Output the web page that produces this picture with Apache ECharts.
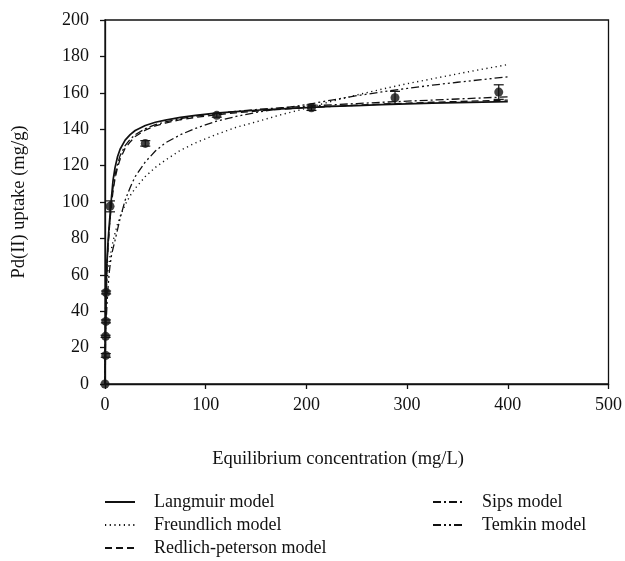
<!DOCTYPE html>
<html>
<head>
<meta charset="utf-8">
<script src="https://cdn.jsdelivr.net/npm/echarts@6/dist/echarts.min.js"></script>
<style>
  html, body { margin: 0; padding: 0; background: #fff; }
  #chart { width: 625px; height: 561px; }
</style>
</head>
<body>
<div id="chart"></div>
<script>
// Pd(II) adsorption isotherm: measured uptake with fitted model curves

// Measured points: equilibrium concentration (mg/L), uptake (mg/g), error (mg/g)
const expC   = [0, 0.8, 0.6, 0.9, 1.1, 5, 40, 111, 205, 288, 391];
const expQ   = [0, 15.7, 26.2, 34.4, 50.3, 97.6, 132.2, 147.6, 151.8, 157.3, 160.4];
const expErr = [0, 1.0, 0.6, 0.8, 0.8, 3.0, 1.5, 1.0, 1.5, 3.5, 4.0];

// Model curves read at common concentrations (mg/L)
const modelC      = [0, 0.25, 0.5, 1, 1.5, 2, 3, 4, 5, 6.5, 8, 10, 12.5, 15, 20, 25, 30, 40, 50, 60,
                     75, 90, 110, 130, 150, 175, 200, 225, 250, 275, 300, 325, 350, 375, 400];
const langmuirQ   = [0, 14, 27, 48, 60, 68, 78, 86, 93, 103, 112, 119, 125, 129, 134, 137, 139.3, 142, 143.8, 145,
                     146.5, 147.6, 148.8, 149.7, 150.4, 151.2, 151.9, 152.5, 153, 153.5, 153.9, 154.3, 154.6, 154.9, 155.2];
const freundlichQ = [0, 35, 42, 49, 54, 57.5, 62.5, 66.5, 70, 74.5, 78.5, 83, 88, 92, 98.5, 103.5, 107.5, 114, 119, 123,
                     128.5, 132.5, 137, 141, 144, 148, 151.5, 155.3, 158.8, 162, 165, 167.7, 170.4, 173, 175.5];
const redlichQ    = [0, 13, 25, 45, 57, 65, 75, 83, 90, 99, 106, 113, 119, 123.5, 129.5, 133, 136, 139.5, 141.8, 143.4,
                     145.2, 146.5, 147.9, 149, 149.9, 150.9, 151.8, 152.5, 153.2, 153.8, 154.3, 154.8, 155.2, 155.6, 156];
const sipsQ       = [0, 15, 28, 47, 58, 66, 76, 84, 91, 100, 108, 115, 121, 125.5, 131, 134.5, 137, 140.3, 142.5, 144,
                     145.8, 147.2, 148.6, 149.8, 150.8, 151.8, 152.6, 153.4, 154.1, 154.8, 155.4, 156, 156.6, 157.2, 157.8];
const temkinC     = [1.5, 2, 3, 4, 5, 6.5, 8, 10, 12.5, 15, 20, 25, 30, 40, 50, 60,
                     75, 90, 110, 130, 150, 175, 200, 225, 250, 275, 300, 325, 350, 375, 400];
const temkinQ     = [38, 44, 53, 60, 65, 71, 74.5, 79, 85, 91, 101, 108, 114, 122, 128, 132.5,
                     137, 140.5, 144.3, 147, 149.2, 151.5, 153.5, 156, 158.4, 160.5, 162.4, 164.2, 165.8, 167.3, 168.8];

// Axis ticks
const xTicks = { min: 0, max: 500, step: 100 };
const yTicks = { min: 0, max: 200, step: 20 };

const FONT = '"Liberation Serif", "DejaVu Serif", serif';
const INK = '#111';

function pairs(xs, ys) { return xs.map((x, i) => [x, ys[i]]); }

function curve(name, xs, ys, dash, width) {
  return {
    name: name,
    type: 'line',
    data: pairs(xs, ys),
    symbol: 'none',
    smooth: false,
    lineStyle: { color: INK, width: width || 1.3, type: dash },
    itemStyle: { color: INK },
    z: 3
  };
}

const chart = echarts.init(document.getElementById('chart'), null, { renderer: 'canvas' });

const legendCommon = {
  orient: 'vertical',
  padding: 0,
  itemWidth: 30,
  itemHeight: 18,
  itemGap: 5,
  itemStyle: { opacity: 0 },
  textStyle: { fontFamily: FONT, fontSize: 18, color: INK, padding: [0, 0, 0, 14], lineHeight: 18 }
};

chart.setOption({
  animation: false,
  backgroundColor: '#fff',
  grid: {
    left: 105, right: 16, top: 20, bottom: 177,
    show: true, borderColor: INK, borderWidth: 1.3, backgroundColor: 'transparent'
  },
  xAxis: {
    type: 'value',
    min: xTicks.min, max: xTicks.max, interval: xTicks.step,
    axisLine: { lineStyle: { color: INK, width: 1.3 } },
    axisTick: { inside: false, length: 5, lineStyle: { color: INK, width: 1.3 } },
    axisLabel: { fontFamily: FONT, fontSize: 18, color: INK, margin: 12 },
    splitLine: { show: false }
  },
  yAxis: {
    type: 'value',
    min: yTicks.min, max: yTicks.max, interval: yTicks.step,
    axisLine: { lineStyle: { color: INK, width: 1.3 } },
    axisTick: { inside: false, length: 5, lineStyle: { color: INK, width: 1.3 } },
    axisLabel: { fontFamily: FONT, fontSize: 18, color: INK, margin: 16 },
    splitLine: { show: false }
  },
  legend: [
    Object.assign({ left: 104, top: 493, data: ['Langmuir model', 'Freundlich model', 'Redlich-peterson model'] }, legendCommon),
    Object.assign({ left: 432, top: 493, data: ['Sips model', 'Temkin model'] }, legendCommon)
  ],
  graphic: [
    {
      type: 'text', x: 338, y: 459,
      style: { text: 'Equilibrium concentration (mg/L)', font: '18.5px ' + FONT, fill: INK, align: 'center', verticalAlign: 'middle' }
    },
    {
      type: 'text', x: 19, y: 202, rotation: Math.PI / 2,
      style: { text: 'Pd(II) uptake (mg/g)', font: '18.5px ' + FONT, fill: INK, align: 'center', verticalAlign: 'middle' }
    }
  ],
  series: [
    curve('Langmuir model', modelC, langmuirQ, 'solid', 1.7),
    curve('Freundlich model', modelC, freundlichQ, [1.2, 3.5], 1.4),
    curve('Redlich-peterson model', modelC, redlichQ, [7, 4], 1.3),
    curve('Sips model', modelC, sipsQ, [8, 3, 2, 3], 1.3),
    curve('Temkin model', temkinC, temkinQ, [8, 3, 2, 3, 2, 3], 1.3),
    {
      name: 'errors',
      type: 'custom',
      data: expC.map((c, i) => [c, expQ[i], expErr[i]]),
      renderItem: function (params, api) {
        const x = api.value(0), y = api.value(1), e = api.value(2);
        if (!e) return null;
        const hi = api.coord([x, y + e]);
        const lo = api.coord([x, y - e]);
        const cap = 5;
        const st = { stroke: INK, lineWidth: 1.2 };
        return {
          type: 'group',
          children: [
            { type: 'line', shape: { x1: hi[0], y1: hi[1], x2: lo[0], y2: lo[1] }, style: st },
            { type: 'line', shape: { x1: hi[0] - cap, y1: hi[1], x2: hi[0] + cap, y2: hi[1] }, style: st },
            { type: 'line', shape: { x1: lo[0] - cap, y1: lo[1], x2: lo[0] + cap, y2: lo[1] }, style: st }
          ]
        };
      },
      z: 4
    },
    {
      name: 'measured',
      type: 'scatter',
      data: pairs(expC, expQ),
      symbol: 'circle',
      symbolSize: 9,
      itemStyle: { color: INK },
      z: 5
    }
  ]
});
</script>
</body>
</html>
